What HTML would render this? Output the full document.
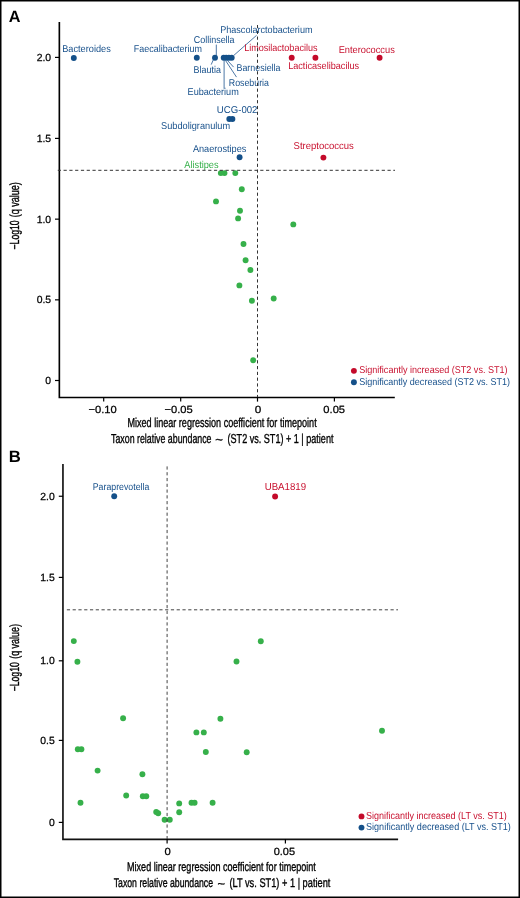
<!DOCTYPE html>
<html><head><meta charset="utf-8"><style>
html,body{margin:0;padding:0;background:#fff;}
body{width:520px;height:898px;overflow:hidden;}
svg{display:block;will-change:transform;text-rendering:geometricPrecision;font-family:"Liberation Sans",sans-serif;}
</style></head><body>
<svg width="520" height="898" viewBox="0 0 520 898">
<rect x="0" y="0" width="520" height="898" fill="#fff"/>
<text x="8.69" y="21.50" font-size="16.3" fill="#000" font-weight="bold" textLength="11.73" lengthAdjust="spacingAndGlyphs">A</text>
<path d="M59.35 22 V397.5 H394.8" fill="none" stroke="#000" stroke-width="1.65"/>
<line x1="55.0" y1="57.4" x2="59.25" y2="57.4" stroke="#000" stroke-width="1.2"/>
<text x="36.65" y="60.85" font-size="10.4" fill="#000" textLength="14.46" lengthAdjust="spacingAndGlyphs" stroke="#000" stroke-width="0.25">2.0</text>
<line x1="55.0" y1="138.4" x2="59.25" y2="138.4" stroke="#000" stroke-width="1.2"/>
<text x="36.68" y="141.85" font-size="10.4" fill="#000" textLength="14.46" lengthAdjust="spacingAndGlyphs" stroke="#000" stroke-width="0.25">1.5</text>
<line x1="55.0" y1="219.15" x2="59.25" y2="219.15" stroke="#000" stroke-width="1.2"/>
<text x="36.65" y="222.60" font-size="10.4" fill="#000" textLength="14.46" lengthAdjust="spacingAndGlyphs" stroke="#000" stroke-width="0.25">1.0</text>
<line x1="55.0" y1="299.85" x2="59.25" y2="299.85" stroke="#000" stroke-width="1.2"/>
<text x="36.68" y="303.30" font-size="10.4" fill="#000" textLength="14.46" lengthAdjust="spacingAndGlyphs" stroke="#000" stroke-width="0.25">0.5</text>
<line x1="55.0" y1="380.5" x2="59.25" y2="380.5" stroke="#000" stroke-width="1.2"/>
<text x="45.32" y="383.95" font-size="10.4" fill="#000" textLength="5.78" lengthAdjust="spacingAndGlyphs" stroke="#000" stroke-width="0.25">0</text>
<line x1="103.7" y1="397" x2="103.7" y2="401.6" stroke="#000" stroke-width="1.2"/>
<text x="88.45" y="412.90" font-size="10.4" fill="#000" textLength="28.24" lengthAdjust="spacingAndGlyphs" stroke="#000" stroke-width="0.25">−0.10</text>
<line x1="180.7" y1="397" x2="180.7" y2="401.6" stroke="#000" stroke-width="1.2"/>
<text x="164.55" y="412.90" font-size="10.4" fill="#000" textLength="28.22" lengthAdjust="spacingAndGlyphs" stroke="#000" stroke-width="0.25">−0.05</text>
<line x1="257.5" y1="397" x2="257.5" y2="401.6" stroke="#000" stroke-width="1.2"/>
<text x="254.84" y="412.90" font-size="10.4" fill="#000" textLength="6.52" lengthAdjust="spacingAndGlyphs" stroke="#000" stroke-width="0.25">0</text>
<line x1="334.4" y1="397" x2="334.4" y2="401.6" stroke="#000" stroke-width="1.2"/>
<text x="323.37" y="412.90" font-size="10.4" fill="#000" textLength="21.71" lengthAdjust="spacingAndGlyphs" stroke="#000" stroke-width="0.25">0.05</text>
<text x="127.46" y="427.00" font-size="13" fill="#000" textLength="189.20" lengthAdjust="spacingAndGlyphs" stroke="#000" stroke-width="0.35">Mixed linear regression coefficient for timepoint</text>
<text x="111.01" y="442.60" font-size="13" fill="#000" textLength="100.53" lengthAdjust="spacingAndGlyphs" stroke="#000" stroke-width="0.35">Taxon relative abundance</text>
<text x="215.21" y="443.60" font-size="13" fill="#000" textLength="7.68" lengthAdjust="spacingAndGlyphs" stroke="#000" stroke-width="0.3">~</text>
<text x="227.54" y="442.60" font-size="13" fill="#000" textLength="105.93" lengthAdjust="spacingAndGlyphs" stroke="#000" stroke-width="0.35">(ST2 vs. ST1) + 1 | patient</text>
<text transform="translate(19.00,249.42) rotate(-90)" x="0" y="0" font-size="13.2" fill="#000" textLength="29.06" lengthAdjust="spacingAndGlyphs" stroke="#000" stroke-width="0.35">−Log10</text>
<text transform="translate(19.00,217.36) rotate(-90)" x="0" y="0" font-size="13.2" fill="#000" textLength="35.22" lengthAdjust="spacingAndGlyphs" stroke="#000" stroke-width="0.35">(q value)</text>
<line x1="216.3" y1="44.6" x2="216.3" y2="55.5" stroke="#1f5690" stroke-width="0.8"/>
<line x1="213.3" y1="59.8" x2="211.2" y2="64.6" stroke="#1f5690" stroke-width="0.8"/>
<line x1="224.1" y1="60.5" x2="224.1" y2="88.8" stroke="#1f5690" stroke-width="0.8"/>
<line x1="225.6" y1="60.6" x2="236.5" y2="77.1" stroke="#1f5690" stroke-width="0.8"/>
<line x1="227.4" y1="60.4" x2="233.6" y2="67.1" stroke="#1f5690" stroke-width="0.8"/>
<line x1="233.8" y1="55.4" x2="256.6" y2="35.3" stroke="#1f5690" stroke-width="0.8"/>
<circle cx="220.8" cy="173.1" r="2.95" fill="#36b04a"/>
<circle cx="224.5" cy="173.1" r="2.95" fill="#36b04a"/>
<circle cx="235.3" cy="173.1" r="2.95" fill="#36b04a"/>
<circle cx="241.8" cy="189.2" r="2.95" fill="#36b04a"/>
<circle cx="216.0" cy="201.4" r="2.95" fill="#36b04a"/>
<circle cx="240.0" cy="210.8" r="2.95" fill="#36b04a"/>
<circle cx="238.1" cy="218.4" r="2.95" fill="#36b04a"/>
<circle cx="293.3" cy="224.4" r="2.95" fill="#36b04a"/>
<circle cx="243.5" cy="244.0" r="2.95" fill="#36b04a"/>
<circle cx="245.6" cy="260.2" r="2.95" fill="#36b04a"/>
<circle cx="250.4" cy="270.0" r="2.95" fill="#36b04a"/>
<circle cx="239.4" cy="285.4" r="2.95" fill="#36b04a"/>
<circle cx="251.9" cy="300.8" r="2.95" fill="#36b04a"/>
<circle cx="273.7" cy="298.5" r="2.95" fill="#36b04a"/>
<circle cx="253.2" cy="360.2" r="2.95" fill="#36b04a"/>
<circle cx="73.8" cy="58.0" r="2.95" fill="#145089"/>
<circle cx="196.8" cy="57.8" r="2.95" fill="#145089"/>
<circle cx="215.0" cy="57.8" r="2.95" fill="#145089"/>
<circle cx="223.7" cy="57.8" r="2.95" fill="#145089"/>
<circle cx="226.2" cy="57.8" r="2.95" fill="#145089"/>
<circle cx="228.9" cy="57.8" r="2.95" fill="#145089"/>
<circle cx="231.7" cy="57.8" r="2.95" fill="#145089"/>
<circle cx="229.3" cy="119.0" r="2.95" fill="#145089"/>
<circle cx="232.4" cy="119.0" r="2.95" fill="#145089"/>
<circle cx="239.6" cy="157.3" r="2.95" fill="#145089"/>
<circle cx="291.7" cy="57.7" r="2.95" fill="#c40a2a"/>
<circle cx="315.4" cy="57.7" r="2.95" fill="#c40a2a"/>
<circle cx="379.6" cy="57.7" r="2.95" fill="#c40a2a"/>
<circle cx="323.4" cy="157.6" r="2.95" fill="#c40a2a"/>
<text x="62.25" y="51.80" font-size="9.9" fill="#17508b" textLength="48.48" lengthAdjust="spacingAndGlyphs">Bacteroides</text>
<text x="133.87" y="52.10" font-size="9.9" fill="#17508b" textLength="68.13" lengthAdjust="spacingAndGlyphs">Faecalibacterium</text>
<text x="193.74" y="42.70" font-size="9.9" fill="#17508b" textLength="40.85" lengthAdjust="spacingAndGlyphs">Collinsella</text>
<text x="220.16" y="32.70" font-size="9.9" fill="#17508b" textLength="92.35" lengthAdjust="spacingAndGlyphs">Phascolarctobacterium</text>
<text x="193.57" y="72.60" font-size="9.9" fill="#17508b" textLength="27.34" lengthAdjust="spacingAndGlyphs">Blautia</text>
<text x="236.47" y="70.90" font-size="9.9" fill="#17508b" textLength="44.03" lengthAdjust="spacingAndGlyphs">Barnesiella</text>
<text x="228.78" y="85.80" font-size="9.9" fill="#17508b" textLength="40.22" lengthAdjust="spacingAndGlyphs">Roseburia</text>
<text x="187.55" y="95.20" font-size="9.9" fill="#17508b" textLength="51.25" lengthAdjust="spacingAndGlyphs">Eubacterium</text>
<text x="216.86" y="113.20" font-size="9.9" fill="#17508b" textLength="40.62" lengthAdjust="spacingAndGlyphs">UCG-002</text>
<text x="161.09" y="129.20" font-size="9.9" fill="#17508b" textLength="69.02" lengthAdjust="spacingAndGlyphs">Subdoligranulum</text>
<text x="192.88" y="152.10" font-size="9.9" fill="#17508b" textLength="53.45" lengthAdjust="spacingAndGlyphs">Anaerostipes</text>
<text x="244.16" y="50.80" font-size="9.9" fill="#c8102e" textLength="73.36" lengthAdjust="spacingAndGlyphs">Limosilactobacilus</text>
<text x="338.64" y="52.70" font-size="9.9" fill="#c8102e" textLength="56.19" lengthAdjust="spacingAndGlyphs">Enterococcus</text>
<text x="288.15" y="69.00" font-size="9.9" fill="#c8102e" textLength="70.97" lengthAdjust="spacingAndGlyphs">Lacticaselibacilus</text>
<text x="293.57" y="149.30" font-size="9.9" fill="#c8102e" textLength="60.17" lengthAdjust="spacingAndGlyphs">Streptococcus</text>
<text x="184.28" y="167.50" font-size="9.9" fill="#36b04a" textLength="34.35" lengthAdjust="spacingAndGlyphs">Alistipes</text>
<line x1="57.77" y1="170.3" x2="395" y2="170.3" stroke="#333" stroke-width="1.0" stroke-dasharray="3.2 2.585"/>
<line x1="257.5" y1="25.0" x2="257.5" y2="397" stroke="#333" stroke-width="1.0" stroke-dasharray="3.2 2.58"/>
<circle cx="353.9" cy="370.85" r="2.95" fill="#c40a2a"/>
<circle cx="353.9" cy="382.2" r="2.95" fill="#145089"/>
<text x="359.24" y="373.10" font-size="9.9" fill="#c8102e" textLength="148.32" lengthAdjust="spacingAndGlyphs">Significantly increased (ST2 vs. ST1)</text>
<text x="359.24" y="384.60" font-size="9.9" fill="#17508b" textLength="150.82" lengthAdjust="spacingAndGlyphs">Significantly decreased (ST2 vs. ST1)</text>
<text x="8.88" y="462.40" font-size="16.3" fill="#000" font-weight="bold" textLength="12.08" lengthAdjust="spacingAndGlyphs">B</text>
<path d="M62.95 463.9 V839.3 H398.1" fill="none" stroke="#111" stroke-width="1.65"/>
<line x1="58.8" y1="496.25" x2="63.1" y2="496.25" stroke="#000" stroke-width="1.2"/>
<text x="40.25" y="499.85" font-size="10.4" fill="#000" textLength="14.46" lengthAdjust="spacingAndGlyphs" stroke="#000" stroke-width="0.25">2.0</text>
<line x1="58.8" y1="577.4" x2="63.1" y2="577.4" stroke="#000" stroke-width="1.2"/>
<text x="40.28" y="581.00" font-size="10.4" fill="#000" textLength="14.46" lengthAdjust="spacingAndGlyphs" stroke="#000" stroke-width="0.25">1.5</text>
<line x1="58.8" y1="660.8" x2="63.1" y2="660.8" stroke="#000" stroke-width="1.2"/>
<text x="40.25" y="664.40" font-size="10.4" fill="#000" textLength="14.46" lengthAdjust="spacingAndGlyphs" stroke="#000" stroke-width="0.25">1.0</text>
<line x1="58.8" y1="740.4" x2="63.1" y2="740.4" stroke="#000" stroke-width="1.2"/>
<text x="40.28" y="744.00" font-size="10.4" fill="#000" textLength="14.46" lengthAdjust="spacingAndGlyphs" stroke="#000" stroke-width="0.25">0.5</text>
<line x1="58.8" y1="822.4" x2="63.1" y2="822.4" stroke="#000" stroke-width="1.2"/>
<text x="48.92" y="826.00" font-size="10.4" fill="#000" textLength="5.78" lengthAdjust="spacingAndGlyphs" stroke="#000" stroke-width="0.25">0</text>
<line x1="167.1" y1="839.1" x2="167.1" y2="843.6" stroke="#000" stroke-width="1.2"/>
<text x="164.56" y="855.20" font-size="10.4" fill="#000" textLength="6.28" lengthAdjust="spacingAndGlyphs" stroke="#000" stroke-width="0.25">0</text>
<line x1="285.4" y1="839.1" x2="285.4" y2="843.6" stroke="#000" stroke-width="1.2"/>
<text x="273.67" y="855.20" font-size="10.4" fill="#000" textLength="21.39" lengthAdjust="spacingAndGlyphs" stroke="#000" stroke-width="0.25">0.05</text>
<text x="127.06" y="870.80" font-size="12.6" fill="#000" textLength="188.80" lengthAdjust="spacingAndGlyphs" stroke="#000" stroke-width="0.35">Mixed linear regression coefficient for timepoint</text>
<text x="113.71" y="886.50" font-size="12.6" fill="#000" textLength="99.38" lengthAdjust="spacingAndGlyphs" stroke="#000" stroke-width="0.35">Taxon relative abundance</text>
<text x="217.52" y="887.50" font-size="12.6" fill="#000" textLength="7.57" lengthAdjust="spacingAndGlyphs" stroke="#000" stroke-width="0.3">~</text>
<text x="229.43" y="886.50" font-size="12.6" fill="#000" textLength="100.94" lengthAdjust="spacingAndGlyphs" stroke="#000" stroke-width="0.35">(LT vs. ST1) + 1 | patient</text>
<text transform="translate(18.60,691.32) rotate(-90)" x="0" y="0" font-size="13.2" fill="#000" textLength="29.06" lengthAdjust="spacingAndGlyphs" stroke="#000" stroke-width="0.35">−Log10</text>
<text transform="translate(18.60,658.86) rotate(-90)" x="0" y="0" font-size="13.2" fill="#000" textLength="34.91" lengthAdjust="spacingAndGlyphs" stroke="#000" stroke-width="0.35">(q value)</text>
<circle cx="73.8" cy="641.1" r="2.95" fill="#36b04a"/>
<circle cx="77.4" cy="661.7" r="2.95" fill="#36b04a"/>
<circle cx="123.1" cy="718.2" r="2.95" fill="#36b04a"/>
<circle cx="77.8" cy="749.2" r="2.95" fill="#36b04a"/>
<circle cx="81.4" cy="749.2" r="2.95" fill="#36b04a"/>
<circle cx="97.6" cy="770.6" r="2.95" fill="#36b04a"/>
<circle cx="142.4" cy="774.3" r="2.95" fill="#36b04a"/>
<circle cx="126.2" cy="795.5" r="2.95" fill="#36b04a"/>
<circle cx="142.8" cy="796.2" r="2.95" fill="#36b04a"/>
<circle cx="146.3" cy="796.2" r="2.95" fill="#36b04a"/>
<circle cx="80.5" cy="802.7" r="2.95" fill="#36b04a"/>
<circle cx="156.2" cy="812.0" r="2.95" fill="#36b04a"/>
<circle cx="158.2" cy="813.2" r="2.95" fill="#36b04a"/>
<circle cx="164.6" cy="819.7" r="2.95" fill="#36b04a"/>
<circle cx="169.8" cy="819.7" r="2.95" fill="#36b04a"/>
<circle cx="179.2" cy="803.4" r="2.95" fill="#36b04a"/>
<circle cx="179.2" cy="812.3" r="2.95" fill="#36b04a"/>
<circle cx="191.5" cy="802.8" r="2.95" fill="#36b04a"/>
<circle cx="194.6" cy="802.8" r="2.95" fill="#36b04a"/>
<circle cx="212.6" cy="802.8" r="2.95" fill="#36b04a"/>
<circle cx="260.8" cy="641.2" r="2.95" fill="#36b04a"/>
<circle cx="236.5" cy="661.5" r="2.95" fill="#36b04a"/>
<circle cx="220.4" cy="718.8" r="2.95" fill="#36b04a"/>
<circle cx="196.4" cy="732.4" r="2.95" fill="#36b04a"/>
<circle cx="203.8" cy="732.4" r="2.95" fill="#36b04a"/>
<circle cx="205.8" cy="752.0" r="2.95" fill="#36b04a"/>
<circle cx="246.7" cy="752.2" r="2.95" fill="#36b04a"/>
<circle cx="382.0" cy="730.8" r="2.95" fill="#36b04a"/>
<circle cx="114.2" cy="496.3" r="2.95" fill="#145089"/>
<circle cx="275.1" cy="496.5" r="2.95" fill="#c40a2a"/>
<line x1="66.85" y1="609.8" x2="398" y2="609.8" stroke="#3a3a3a" stroke-width="0.95" stroke-dasharray="3.2 2.58"/>
<line x1="167.1" y1="466.4" x2="167.1" y2="839" stroke="#3a3a3a" stroke-width="0.95" stroke-dasharray="3.2 2.575"/>
<text x="92.78" y="490.40" font-size="9.8" fill="#17508b" textLength="56.52" lengthAdjust="spacingAndGlyphs">Paraprevotella</text>
<text x="264.65" y="489.50" font-size="10.2" fill="#c8102e" textLength="41.50" lengthAdjust="spacingAndGlyphs">UBA1819</text>
<circle cx="361.5" cy="816.4" r="2.95" fill="#c40a2a"/>
<circle cx="361.5" cy="827.6" r="2.95" fill="#145089"/>
<text x="365.99" y="818.60" font-size="10.2" fill="#c8102e" textLength="140.86" lengthAdjust="spacingAndGlyphs">Significantly increased (LT vs. ST1)</text>
<text x="365.99" y="830.10" font-size="10.2" fill="#17508b" textLength="144.77" lengthAdjust="spacingAndGlyphs">Significantly decreased (LT vs. ST1)</text>
<rect x="0.75" y="0.75" width="518.5" height="896.5" fill="none" stroke="#000" stroke-width="1.5"/>
</svg>
</body></html>
